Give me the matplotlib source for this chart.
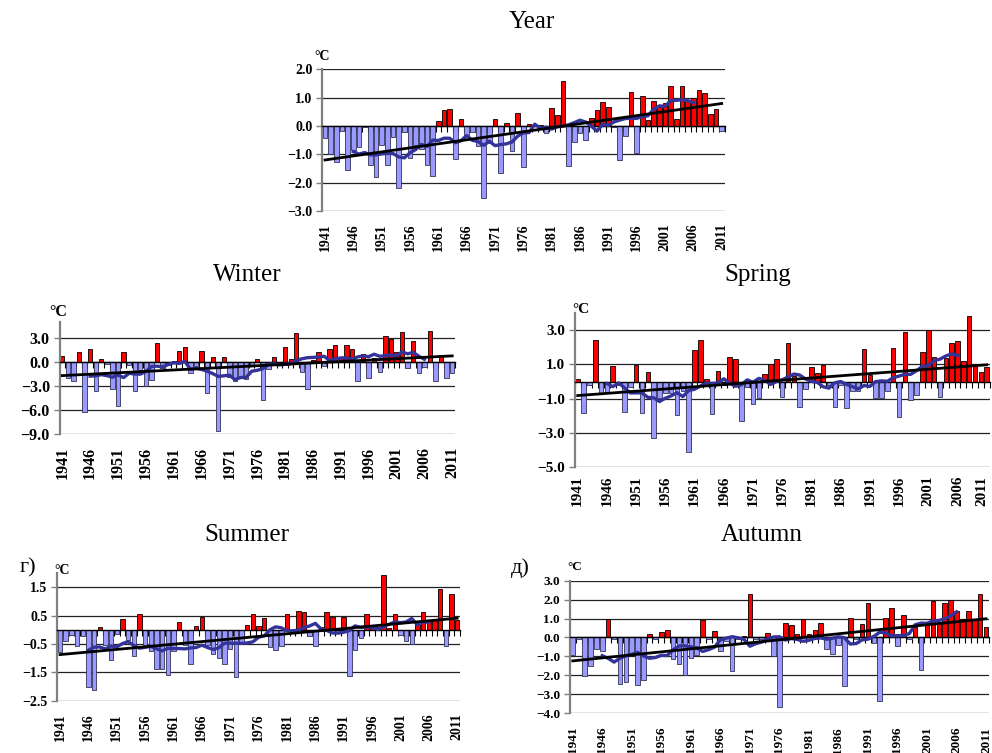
import numpy as np
import pandas as pd
import matplotlib
matplotlib.use("Agg")
import matplotlib.pyplot as plt

plt.rcParams['font.family'] = ['Liberation Serif', 'DejaVu Serif']

# Temperature anomalies, 1941-2011
years = np.arange(1941, 2012)
label_years = np.arange(1941, 2012, 5)

year_vals = [-0.43, -0.99, -1.28, -0.18, -1.55, -0.85, -0.75, -0.05, -1.38, -1.80,
             -0.68, -1.38, -0.40, -2.20, -0.20, -1.12, -0.68, -0.80, -1.37, -1.75,
             0.18, 0.58, 0.60, -1.15, 0.25, -0.38, -0.22, -0.70, -2.53, -0.60,
             0.25, -1.67, 0.10, -0.87, 0.45, -1.46, 0.06, 0.03, 0.02, -0.25,
             0.65, 0.38, 1.59, -1.41, -0.58, -0.26, -0.50, 0.27, 0.56, 0.85,
             0.68, -0.05, -1.20, -0.34, 1.21, -0.96, 1.06, 0.20, 0.87, 0.68,
             0.80, 1.40, 0.23, 1.40, 0.92, 1.00, 1.28, 1.18, 0.41, 0.60,
             -0.19]

winter_vals = [0.80, -2.00, -2.30, 1.25, -6.25, 1.60, -3.60, 0.40, -0.25, -3.40,
               -5.50, 1.25, -0.40, -3.60, -1.00, -3.00, -2.20, 2.45, -0.70, -0.40,
               0.10, 1.45, 1.85, -1.40, -0.45, 1.45, -3.85, 0.60, -8.60, 0.60,
               -1.80, -2.30, -1.80, -2.10, -0.50, 0.40, -4.70, -0.90, 0.60, 0.05,
               1.85, 0.40, 3.70, -1.25, -3.40, 0.30, 1.25, -0.45, 1.65, 2.10,
               0.50, 2.15, 1.65, -2.35, 1.05, -2.00, 0.50, -1.25, 3.30, 2.90,
               1.25, 3.80, -0.75, 2.65, -1.40, -0.60, 3.95, -2.40, 0.90, -2.00,
               -1.40]

spring_vals = [0.15, -1.85, -0.20, 2.40, -0.70, -0.65, 0.90, -0.20, -1.75, -0.30,
               0.95, -1.85, 0.55, -3.30, -0.95, -0.65, -0.65, -1.95, -0.55, -4.10,
               1.85, 2.45, 0.15, -1.90, 0.60, -0.20, 1.45, 1.30, -2.30, -0.30,
               -1.30, -0.95, 0.45, 1.05, 1.30, -0.90, 2.25, 0.35, -1.50, -0.45,
               0.85, 0.50, 0.95, -0.20, -1.50, -0.20, -1.55, -0.55, -0.55, 1.90,
               0.40, -0.95, -0.95, -0.55, 1.95, -2.05, 2.90, -1.10, -0.80, 1.70,
               3.00, 1.45, -0.90, 1.40, 2.25, 2.35, 1.20, 3.85, 0.90, 0.55,
               0.85]

summer_vals = [-0.80, -0.40, -0.19, -0.58, -0.21, -2.00, -2.13, 0.10, -0.52, -1.05,
               -0.15, 0.39, -0.35, -0.92, 0.54, -0.52, -0.75, -1.37, -1.37, -1.58,
               -0.75, 0.26, -0.55, -1.19, 0.12, 0.44, -0.55, -0.87, -1.01, -1.20,
               -0.68, -1.66, -0.50, 0.15, 0.56, 0.13, 0.42, -0.62, -0.70, -0.56,
               0.54, -0.10, 0.67, 0.64, -0.22, -0.56, 0.10, 0.62, 0.45, -0.10,
               0.44, -1.62, -0.70, -0.28, 0.56, 0.10, 0.10, 1.93, 0.05, 0.56,
               -0.19, -0.40, -0.50, 0.20, 0.62, 0.30, 0.35, 1.43, -0.56, 1.25,
               0.33]

autumn_vals = [-0.91, -0.10, -2.05, -1.50, -0.60, -0.74, 0.96, -0.10, -2.44, -2.35,
               -0.80, -2.50, -2.25, 0.18, -0.10, 0.28, 0.37, -1.12, -1.42, -2.00,
               -1.07, -0.95, 0.91, -0.10, 0.32, -0.74, -0.20, -1.80, -0.10, 0.05,
               2.28, -0.10, -0.10, 0.23, -1.00, -3.67, 0.77, 0.67, 0.16, 0.96,
               0.18, 0.37, 0.77, -0.60, -0.86, -0.42, -2.58, 1.05, -0.10, 0.72,
               1.80, -0.28, -3.35, 1.05, 1.54, -0.47, 1.20, -0.10, 0.54, -1.74,
               0.80, 1.95, 0.80, 1.82, 1.98, 1.42, 0.95, 1.38, 0.95, 2.28,
               0.54]

W, H = 992, 753
fig = plt.figure(figsize=(W / 100, H / 100), dpi=100)


def add_px_axes(left, right, top, bottom):
    return fig.add_axes([left / W, 1 - bottom / H, (right - left) / W, (bottom - top) / H])


def fmt(t):
    s = "%.1f" % t
    return s.replace("-", "\u2212")


def panel(rect, vals, ylim, yticks, title, title_xy, unit_xy, fs, lab_pad, last_dx=0):
    ax = add_px_axes(*rect)
    vals = np.asarray(vals)
    colors = np.where(vals > 0, '#FF0000', '#9999FF')
    edges = np.where(vals > 0, '#000000', '#333355')
    ax.bar(years, vals, width=0.78, color=colors, edgecolor=edges, linewidth=0.6)

    # 11-year moving average and linear trend
    ma = pd.Series(vals).rolling(11, center=True).mean()
    ax.plot(years, ma, color='#333399', lw=2.4, zorder=3)
    k, b = np.polyfit(years, vals, 1)
    ax.plot(years, k * years + b, color='black', lw=2.0, zorder=4)

    ax.set_xlim(years[0] - 0.5, years[-1] + 0.5)
    ax.set_ylim(*ylim)
    ax.set_axisbelow(True)
    ax.set_yticks(yticks)
    ax.set_yticklabels([fmt(t) for t in yticks], fontweight='bold', fontsize=fs)
    ax.yaxis.grid(True, color='#222222', lw=0.9)
    ax.tick_params(axis='y', direction='out', length=4, width=1, color='#808080', pad=3)

    for s in ['top', 'right']:
        ax.spines[s].set_visible(False)
    ax.spines['left'].set_color('#808080')
    ax.spines['left'].set_linewidth(1.6)
    ax.spines['bottom'].set_position(('data', 0))
    ax.spines['bottom'].set_color('black')
    ax.spines['bottom'].set_linewidth(1.0)
    ax.set_xticks(np.append(years - 0.5, years[-1] + 0.5))
    ax.tick_params(axis='x', direction='out', length=4, width=0.8, labelbottom=False)

    # year labels under the plot area
    for i, y in enumerate(label_years):
        dx = last_dx if i == len(label_years) - 1 else 0
        ax.annotate(str(y), xy=(y, 0), xycoords=('data', 'axes fraction'),
                    xytext=(dx, -lab_pad), textcoords='offset points',
                    rotation=90, ha='center', va='top',
                    fontweight='bold', fontsize=fs)

    fig.text(title_xy[0] / W, 1 - title_xy[1] / H, title, fontsize=18,
             ha='center', va='center')
    fig.text(unit_xy[0] / W, 1 - unit_xy[1] / H, '°C', fontsize=fs,
             fontweight='bold', ha='center', va='center')
    return ax


panel((322.2, 724.5, 69.3, 211.0), year_vals, (-3, 2), np.arange(-3, 2.1, 1.0),
      'Year', (532, 22), (322, 57), 10, 9)
panel((59.5, 455.0, 322.3, 434.0), winter_vals, (-9, 5), np.arange(-9, 3.1, 3.0),
      'Winter', (247, 275), (58, 312), 11.5, 9)
panel((574.8, 989.6, 313.0, 467.3), spring_vals, (-5, 4), np.arange(-5, 3.1, 2.0),
      'Spring', (758, 275), (581, 309), 11, 6, last_dx=-3.5)
panel((57.2, 460.0, 573.0, 700.7), summer_vals, (-2.5, 2.0), np.arange(-2.5, 1.6, 1.0),
      'Summer', (247, 535), (62, 570), 10, 9)
panel((569.8, 989.0, 580.7, 713.0), autumn_vals, (-4, 3), np.arange(-4, 3.1, 1.0),
      'Autumn', (762, 535), (575, 567), 9.5, 10)

fig.text(28 / W, 1 - 568 / H, 'г)', fontsize=16, ha='center', va='center')
fig.text(520 / W, 1 - 568 / H, 'д)', fontsize=16, ha='center', va='center')

fig.savefig('out.png', dpi=100)
